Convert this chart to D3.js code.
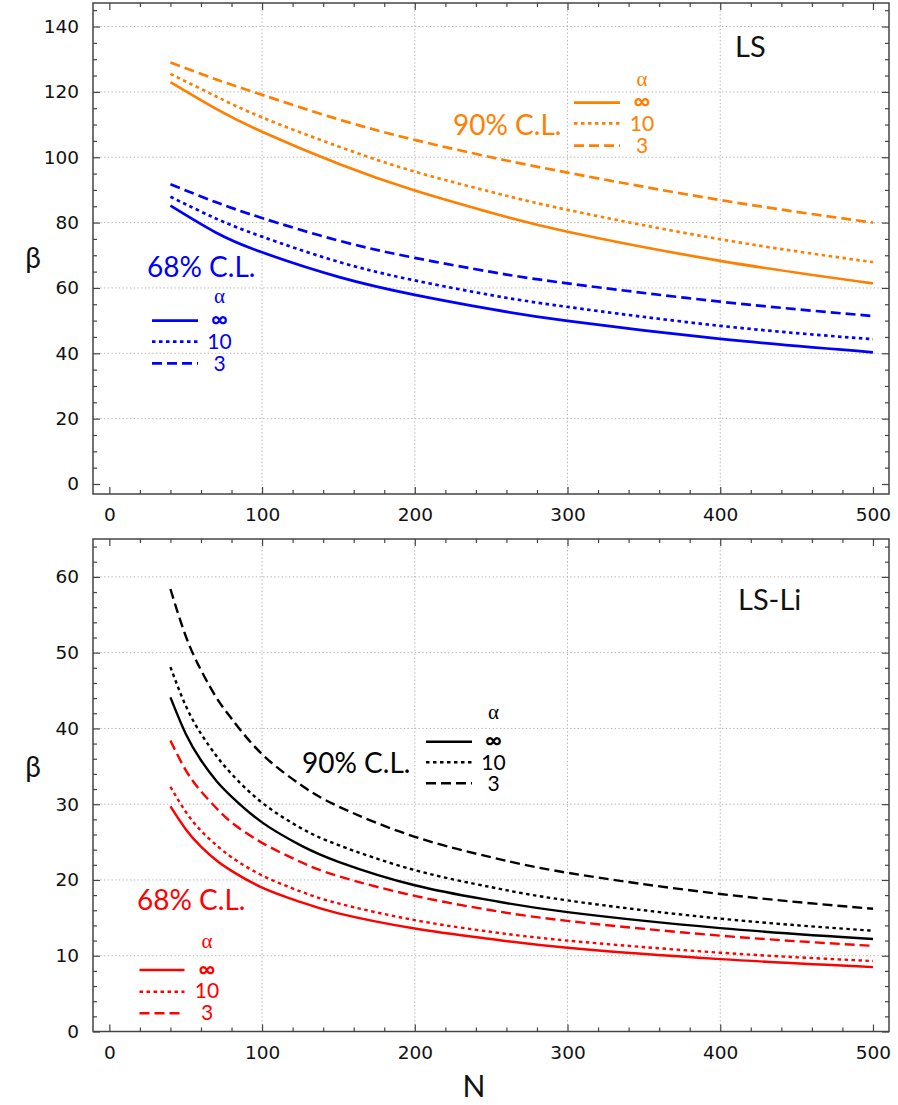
<!DOCTYPE html>
<html><head><meta charset="utf-8">
<script src="https://cdn.jsdelivr.net/npm/d3@7"></script>
<style>body{margin:0;background:#fff}svg{display:block}</style>
</head><body>
<svg id="c" width="898" height="1105"></svg>
<script>
// ---- data ----
const xTicks = [0, 100, 200, 300, 400, 500];
const yTicksTop = [0, 20, 40, 60, 80, 100, 120, 140];
const yTicksBot = [0, 10, 20, 30, 40, 50, 60];

const nTop = [40, 70, 100, 150, 200, 250, 300, 400, 500];
const ls90_inf = [123.0, 114.8, 107.8, 98.0, 89.8, 83.0, 77.2, 68.3, 61.4];
const ls90_10  = [125.5, 118.6, 112.2, 103.3, 95.6, 89.4, 83.9, 74.9, 67.9];
const ls90_3   = [129.0, 123.8, 119.1, 111.6, 105.3, 100.0, 95.3, 86.9, 80.0];
const ls68_inf = [85.2, 76.9, 70.9, 63.4, 57.9, 53.5, 49.9, 44.4, 40.3];
const ls68_10  = [87.9, 81.2, 75.7, 68.0, 62.3, 57.8, 54.2, 48.4, 44.3];
const ls68_3   = [91.7, 86.2, 81.4, 74.5, 69.2, 64.9, 61.4, 55.8, 51.4];

const nBot = [40, 50, 60, 70, 80, 100, 125, 150, 200, 250, 300, 400, 500];
const li90_inf = [44.1, 39.3, 35.8, 33.1, 31.0, 27.6, 24.6, 22.4, 19.3, 17.3, 15.75, 13.65, 12.2];
const li90_10  = [48.1, 43.0, 39.3, 36.4, 34.0, 30.2, 26.9, 24.6, 21.3, 19.05, 17.3, 14.9, 13.3];
const li90_3   = [58.4, 52.2, 47.7, 44.1, 41.3, 36.6, 32.6, 29.7, 25.7, 23.0, 20.95, 18.15, 16.2];
const li68_inf = [29.7, 26.7, 24.4, 22.6, 21.2, 19.0, 17.1, 15.6, 13.6, 12.2, 11.05, 9.55, 8.5];
const li68_10  = [32.3, 29.0, 26.5, 24.6, 23.0, 20.6, 18.5, 16.9, 14.7, 13.15, 12.0, 10.4, 9.3];
const li68_3   = [38.4, 34.5, 31.7, 29.5, 27.6, 24.9, 22.4, 20.5, 17.9, 16.0, 14.6, 12.65, 11.3];

const alphaLabels = ["∞", "10", "3"];

// ---- drawing ----
const svg = d3.select("#c");
const ORANGE = "#ff8000", BLUE = "#0000ff", RED = "#ff0000", BLACK = "#000";
const DASH = {inf: null, d10: "3.5,3.5", d3: "10,5"};
const dashes = [DASH.inf, DASH.d10, DASH.d3];

const x = d3.scaleLinear().domain([-10.7, 510.5]).range([93, 889]);

function panel(cfg) {
  const g = svg.append("g");
  const y = cfg.y;
  const [x0, x1] = x.range();
  const [yb, yt] = y.range();
  // grid
  g.selectAll(".gx").data(xTicks.filter(d => d > 0 && d < 500)).enter().append("line")
    .attr("x1", d => x(d)).attr("x2", d => x(d)).attr("y1", yt).attr("y2", yb)
    .attr("stroke", "#b0b0b0").attr("stroke-width", 1).attr("stroke-dasharray", "1.3,2.4");
  g.selectAll(".gy").data(cfg.yTicks.filter(d => d > 0)).enter().append("line")
    .attr("x1", x0).attr("x2", x1).attr("y1", d => y(d)).attr("y2", d => y(d))
    .attr("stroke", "#b0b0b0").attr("stroke-width", 1).attr("stroke-dasharray", "1.3,2.4");

  const minorX = d3.range(0, 501, 20).filter(d => d % 100 !== 0);
  const minorY = d3.range(0, cfg.yMax + 0.01, cfg.yMinor).filter(d => !cfg.yTicks.includes(d));
  const axStyle = sel => { sel.select(".domain").remove(); sel.selectAll("line").attr("stroke", "#444").attr("stroke-width", 1.2); };
  const fontTick = sel => sel.selectAll("text").attr("font-family", "DejaVu Sans").attr("font-size", 18.5).attr("fill", "#111");

  g.append("g").attr("transform", `translate(0,${yb})`)
    .call(d3.axisBottom(x).tickValues(xTicks).tickSize(-7).tickPadding(14).tickFormat(d3.format("d")))
    .call(axStyle).call(fontTick);
  g.append("g").attr("transform", `translate(0,${yb})`)
    .call(d3.axisBottom(x).tickValues(minorX).tickSize(-4).tickFormat(""))
    .call(axStyle);
  g.append("g").attr("transform", `translate(0,${yt})`)
    .call(d3.axisTop(x).tickValues(xTicks).tickSize(-7).tickFormat(""))
    .call(axStyle);
  g.append("g").attr("transform", `translate(0,${yt})`)
    .call(d3.axisTop(x).tickValues(minorX).tickSize(-4).tickFormat(""))
    .call(axStyle);
  g.append("g").attr("transform", `translate(${x0},0)`)
    .call(d3.axisLeft(y).tickValues(cfg.yTicks).tickSize(-7).tickPadding(14).tickFormat(d3.format("d")))
    .call(axStyle).call(fontTick);
  g.append("g").attr("transform", `translate(${x0},0)`)
    .call(d3.axisLeft(y).tickValues(minorY).tickSize(-4).tickFormat(""))
    .call(axStyle);
  g.append("g").attr("transform", `translate(${x1},0)`)
    .call(d3.axisRight(y).tickValues(cfg.yTicks).tickSize(-7).tickFormat(""))
    .call(axStyle);
  g.append("g").attr("transform", `translate(${x1},0)`)
    .call(d3.axisRight(y).tickValues(minorY).tickSize(-4).tickFormat(""))
    .call(axStyle);
  g.append("rect").attr("x", x0).attr("y", yt).attr("width", x1 - x0).attr("height", yb - yt)
    .attr("fill", "none").attr("stroke", "#444").attr("stroke-width", 1.5);

  // curves
  const line = d3.line().x(d => x(d[0])).y(d => y(d[1])).curve(d3.curveNatural);
  cfg.series.forEach(s => {
    g.append("path").datum(cfg.n.map((n, i) => [n, s.v[i]]))
      .attr("d", line).attr("fill", "none").attr("stroke", s.color)
      .attr("stroke-width", cfg.lw).attr("stroke-dasharray", s.dash);
  });

  g.append("text").attr("x", 33).attr("y", cfg.betaY).attr("text-anchor", "middle")
    .attr("font-family", "Lato").attr("font-size", 28).attr("fill", "#111").text("β");
  g.append("text").attr("x", cfg.title.x).attr("y", cfg.title.y)
    .attr("font-family", "Lato").attr("font-size", 29).attr("fill", "#111").text(cfg.title.t);

  cfg.legends.forEach(L => {
    g.append("text").attr("x", L.clx).attr("y", L.cly).attr("font-family", "Lato")
      .attr("font-size", 28).attr("fill", L.color).text(L.cl);
    g.append("text").attr("x", L.tx).attr("y", L.ay).attr("text-anchor", "middle")
      .attr("font-family", "Liberation Serif").attr("font-size", 21).attr("fill", L.color).text("α");
    alphaLabels.forEach((lab, i) => {
      g.append("line").attr("x1", L.lx0).attr("x2", L.lx1).attr("y1", L.ly[i]).attr("y2", L.ly[i])
        .attr("stroke", L.color).attr("stroke-width", cfg.lw).attr("stroke-dasharray", dashes[i]);
      g.append("text").attr("x", L.tx).attr("y", L.ty[i]).attr("text-anchor", "middle")
        .attr("font-family", "Lato").attr("font-size", i === 0 ? 23 : 21)
        .attr("font-weight", i === 0 ? "bold" : "normal")
        .attr("fill", L.color).text(lab);
    });
  });
}

panel({
  y: d3.scaleLinear().domain([-3.06, 147.2]).range([494, 3]),
  yTicks: yTicksTop, yMinor: 5, yMax: 145, lw: 2.7, n: nTop, betaY: 268,
  title: {t: "LS", x: 735, y: 57},
  series: [
    {v: ls90_inf, color: ORANGE, dash: DASH.inf}, {v: ls90_10, color: ORANGE, dash: DASH.d10}, {v: ls90_3, color: ORANGE, dash: DASH.d3},
    {v: ls68_inf, color: BLUE, dash: DASH.inf}, {v: ls68_10, color: BLUE, dash: DASH.d10}, {v: ls68_3, color: BLUE, dash: DASH.d3}
  ],
  legends: [
    {color: ORANGE, cl: "90% C.L.", clx: 453, cly: 135, tx: 642, ay: 86, ty: [109, 130.5, 152.5], lx0: 574, lx1: 620, ly: [102.7, 123.3, 145.7]},
    {color: BLUE, cl: "68% C.L.", clx: 147, cly: 277, tx: 219.5, ay: 303, ty: [327, 348.5, 371], lx0: 152, lx1: 198, ly: [320.7, 341.7, 363.3]}
  ]
});

panel({
  y: d3.scaleLinear().domain([0, 65]).range([1031.5, 539]),
  yTicks: yTicksBot, yMinor: 2, yMax: 64, lw: 2.4, n: nBot, betaY: 777,
  title: {t: "LS-Li", x: 738, y: 610},
  series: [
    {v: li90_inf, color: BLACK, dash: DASH.inf}, {v: li90_10, color: BLACK, dash: DASH.d10}, {v: li90_3, color: BLACK, dash: DASH.d3},
    {v: li68_inf, color: RED, dash: DASH.inf}, {v: li68_10, color: RED, dash: DASH.d10}, {v: li68_3, color: RED, dash: DASH.d3}
  ],
  legends: [
    {color: BLACK, cl: "90% C.L.", clx: 302, cly: 773, tx: 493.5, ay: 719, ty: [748, 770, 791], lx0: 426, lx1: 472, ly: [741.7, 762.3, 783.3]},
    {color: RED, cl: "68% C.L.", clx: 137, cly: 910, tx: 207, ay: 948, ty: [977, 998, 1020], lx0: 139.5, lx1: 184.5, ly: [970, 991.7, 1013.3]}
  ]
});

svg.append("text").attr("x", 474).attr("y", 1097).attr("text-anchor", "middle")
  .attr("font-family", "Lato").attr("font-size", 30).attr("fill", "#111").text("N");
</script>
</body></html>
